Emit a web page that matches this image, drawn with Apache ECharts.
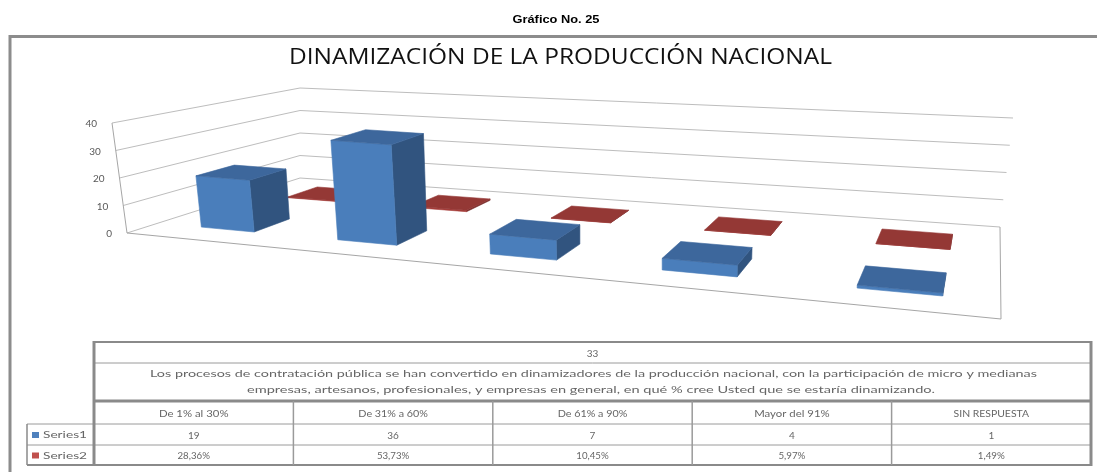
<!DOCTYPE html>
<html><head><meta charset="utf-8">
<script src="https://cdn.jsdelivr.net/npm/echarts@6/dist/echarts.min.js"></script>
<style>html,body{margin:0;padding:0;background:#fff}#c{width:1097px;height:472px}</style>
</head><body><div id="c"></div>
<script>
// ---------------- DATA ----------------
const categories = ['De 1% al 30%', 'De 31% a 60%', 'De 61% a 90%', 'Mayor del 91%', 'SIN RESPUESTA'];
const series1 = [19, 36, 7, 4, 1];
const series2 = [0.2836, 0.5373, 0.1045, 0.0597, 0.0149];
const series2Labels = ['28,36%', '53,73%', '10,45%', '5,97%', '1,49%'];
const yTicks = [0, 10, 20, 30, 40];
const seriesNames = ['Series1', 'Series2'];
const chartTitle = 'DINAMIZACIÓN DE LA PRODUCCIÓN NACIONAL';
const pageCaption = 'Gráfico No. 25';
const tableHeader = '33';
const tableQuestion = [
  'Los procesos de contratación pública se han convertido en dinamizadores de la producción nacional, con la participación de micro y medianas',
  'empresas, artesanos, profesionales, y empresas en general, en qué % cree Usted que se estaría dinamizando.'
];

// ---------------- 3D LAYOUT (perspective of the floor and walls) ----------------
const FLOOR = [[127, 233], [1001, 319], [1000, 227], [300, 178]]; // front-left, front-right, back-right, back-left
const HVEC = { fl: [-15, -110], fr: [5, -122], br: [13, -109], bl: [0, -90] }; // full-height vectors
const BAR_SHIFT = 0.008;
function makeHomography(q) {
  const [x0, y0] = q[0], [x1, y1] = q[1], [x2, y2] = q[2], [x3, y3] = q[3];
  const dx1 = x1 - x2, dx2 = x3 - x2, dx3 = x0 - x1 + x2 - x3;
  const dy1 = y1 - y2, dy2 = y3 - y2, dy3 = y0 - y1 + y2 - y3;
  const den = dx1 * dy2 - dy1 * dx2;
  const g = (dx3 * dy2 - dy3 * dx2) / den;
  const h = (dx1 * dy3 - dy1 * dx3) / den;
  const a = x1 - x0 + g * x1, b = x3 - x0 + h * x3, c = x0;
  const d = y1 - y0 + g * y1, e = y3 - y0 + h * y3, f = y0;
  return (u, v) => {
    const w = g * u + h * v + 1;
    return [(a * u + b * v + c) / w, (d * u + e * v + f) / w];
  };
}
const floorMap = makeHomography(FLOOR);
function proj(u, v, f) {
  const p = floorMap(u, v);
  const k = [(1 - u) * (1 - v), u * (1 - v), u * v, (1 - u) * v];
  const vs = [HVEC.fl, HVEC.fr, HVEC.br, HVEC.bl];
  let hx = 0, hy = 0;
  for (let i = 0; i < 4; i++) { hx += k[i] * vs[i][0]; hy += k[i] * vs[i][1]; }
  return [p[0] + hx * f, p[1] + hy * f];
}
function area(pts) {
  let s = 0;
  for (let i = 0; i < pts.length; i++) {
    const a = pts[i], b = pts[(i + 1) % pts.length];
    s += a[0] * b[1] - b[0] * a[1];
  }
  return s;
}
function boxFaces(u0, u1, v0, v1, f, col) {
  const P = proj;
  const faces = [
    { pts: [P(u1, v1, 0), P(u0, v1, 0), P(u0, v1, f), P(u1, v1, f)], c: col.side },
    { pts: [P(u0, v1, 0), P(u1, v1, 0), P(u1, v0, 0), P(u0, v0, 0)], c: col.top },
    { pts: [P(u1, v0, 0), P(u1, v1, 0), P(u1, v1, f), P(u1, v0, f)], c: col.side },
    { pts: [P(u0, v1, 0), P(u0, v0, 0), P(u0, v0, f), P(u0, v1, f)], c: col.side },
    { pts: [P(u0, v0, 0), P(u1, v0, 0), P(u1, v0, f), P(u0, v0, f)], c: col.front },
    { pts: [P(u0, v0, f), P(u1, v0, f), P(u1, v1, f), P(u0, v1, f)], c: col.top }
  ];
  return faces.filter(fc => area(fc.pts) < 0).map(fc => ({
    type: 'polygon', shape: { points: fc.pts },
    style: { fill: fc.c, stroke: fc.c, lineWidth: 0.6 }
  }));
}
const COLORS = [
  { front: '#4a7ebb', side: '#31547f', top: '#3d679c' },
  { front: '#a63e3b', side: '#7a2d2b', top: '#943835' }
];
function barRender(sIdx) {
  return function (params, api) {
    const cs = params.coordSys;
    const c = api.coord([api.value(0), api.value(1)]);
    const band = api.size([1, 0])[0];
    const uc = (c[0] - cs.x) / cs.width + BAR_SHIFT;
    const hw = band * 0.4 / 2 / cs.width;
    const f = (cs.y + cs.height - c[1]) / cs.height;
    const vc = (sIdx + 0.5) / seriesNames.length, hd = 0.4 / seriesNames.length / 2;
    return { type: 'group', children: boxFaces(uc - hw, uc + hw, vc - hd, vc + hd, f, COLORS[sIdx]) };
  };
}
function gridRender(params, api) {
  const cs = params.coordSys;
  const c = api.coord([0, api.value(1)]);
  const f = (cs.y + cs.height - c[1]) / cs.height;
  const p0 = proj(0, 0, f);
  return {
    type: 'group', children: [
      { type: 'polyline', shape: { points: [p0, proj(0, 1, f), proj(1, 1, f)] },
        style: { stroke: '#bdbdbd', lineWidth: 1, fill: null } },
      { type: 'text', x: p0[0] - 15, y: p0[1] + 1,
        style: { text: String(api.value(1)), align: 'right', verticalAlign: 'middle',
                 fontSize: 10, fontFamily: 'Lato', fill: '#595959' } }
    ]
  };
}
function frameRender(params, api) {
  const edge = (a, b) => ({ type: 'polyline', shape: { points: [a, b] }, style: { stroke: '#a6a6a6', lineWidth: 1, fill: null } });
  return {
    type: 'group', children: [
      edge(proj(0, 0, 0), proj(0, 0, 1)),
      edge(proj(0, 0, 0), proj(1, 0, 0)),
      edge(proj(1, 0, 0), proj(1, 1, 0))
    ]
  };
}

// ---------------- TEXT / TABLE ----------------
const mctx = document.createElement('canvas').getContext('2d');
function fitScale(text, font, target) {
  mctx.font = font;
  return target / mctx.measureText(text).width;
}
const TXT = '#666666', LINE = '#9a9a9a', THICK = '#8a8a8a';
const graphics = [];
function txt(text, x, y, size, opts) {
  opts = opts || {};
  const fam = opts.family || 'Lato';
  const font = (opts.weight || 'normal') + ' ' + size + 'px "' + fam + '"';
  const sx = opts.width ? fitScale(text, font, opts.width) : 1;
  graphics.push({ type: 'text', x: x, y: y, scaleX: sx, z: 10,
    style: { text: text, align: opts.align || 'center', verticalAlign: 'middle', fontSize: size,
             fontFamily: fam, fontWeight: opts.weight || 'normal', fill: opts.fill || TXT } });
}
function line(x1, y1, x2, y2, w, col) {
  graphics.push({ type: 'line', z: 9, shape: { x1: x1, y1: y1, x2: x2, y2: y2 }, style: { stroke: col || LINE, lineWidth: w || 1 } });
}
// outer frame
graphics.push({ type: 'polyline', z: 9, shape: { points: [[10, 472], [10, 36.5], [1097, 36.5]] }, style: { stroke: '#8c8c8c', lineWidth: 3, fill: null } });
// captions
txt(pageCaption, 556, 20, 11, { weight: 'bold', family: 'Liberation Sans', fill: '#000', width: 87 });
txt(chartTitle, 560.5, 58, 22, { fill: '#111111', family: 'Open Sans', width: 543 });
// table
const TL = 94, TR = 1091, LL = 27;
const RY = [342, 363, 401, 424, 445, 465];
const colW = (TR - TL) / categories.length;
const colX = categories.map((_, i) => TL + i * colW);
line(TL, RY[0], TR, RY[0], 2, THICK);
line(TL, RY[1], TR, RY[1], 1);
line(TL, RY[2], TR, RY[2], 3, THICK);
line(LL, RY[3], TR, RY[3], 1);
line(LL, RY[4], TR, RY[4], 1);
line(LL, RY[5], TR, RY[5], 2, THICK);
line(LL, RY[3], LL, RY[5], 1.5, THICK);
line(TL, RY[0] - 1, TL, RY[5] + 1, 3, THICK);
line(TR, RY[0] - 1, TR, RY[5] + 1, 3, THICK);
colX.slice(1).forEach(x => line(x, RY[2], x, RY[5], 1.5, LINE));
txt(tableHeader, (TL + TR) / 2, (RY[0] + RY[1]) / 2 + 1, 10);
txt(tableQuestion[0], 593.5, 373.5, 10, { width: 887 });
txt(tableQuestion[1], 591, 390, 10, { width: 688 });
categories.forEach((c, i) => txt(c, colX[i] + colW / 2, (RY[2] + RY[3]) / 2 + 1, 10, { width: c.length * 5.8 }));
series1.forEach((v, i) => txt(String(v), colX[i] + colW / 2, (RY[3] + RY[4]) / 2 + 1, 10));
series2Labels.forEach((v, i) => txt(v, colX[i] + colW / 2, (RY[4] + RY[5]) / 2 + 1, 10, { width: v.length * 5.4 }));
const legendColors = ['#4f81bd', '#c0504d'];
seriesNames.forEach((n, i) => {
  const cy = (RY[3 + i] + RY[4 + i]) / 2 + 0.5;
  graphics.push({ type: 'rect', z: 10, shape: { x: 32, y: cy - 3, width: 7, height: 6 }, style: { fill: legendColors[i] } });
  txt(n, 43, cy, 9.5, { align: 'left', width: 44 });
});

// ---------------- CHART ----------------
const chart = echarts.init(document.getElementById('c'));
chart.setOption({
  animation: false,
  backgroundColor: '#ffffff',
  grid: { left: 100, right: 100, top: 100, bottom: 100 },
  xAxis: { type: 'category', data: categories, show: false },
  yAxis: { type: 'value', min: 0, max: 40, interval: 10, show: false },
  series: [
    { type: 'custom', name: 'grid', z: 1, clip: false, silent: true, data: yTicks.map(t => [0, t]), renderItem: gridRender },
    { type: 'custom', name: 'frame', z: 1, clip: false, silent: true, data: [[0, 0]], renderItem: frameRender },
    { type: 'custom', name: seriesNames[1], z: 2, clip: false, data: series2.map((v, i) => [i, v]), renderItem: barRender(1) },
    { type: 'custom', name: seriesNames[0], z: 3, clip: false, data: series1.map((v, i) => [i, v]), renderItem: barRender(0) }
  ],
  graphic: { elements: graphics }
});
</script></body></html>
